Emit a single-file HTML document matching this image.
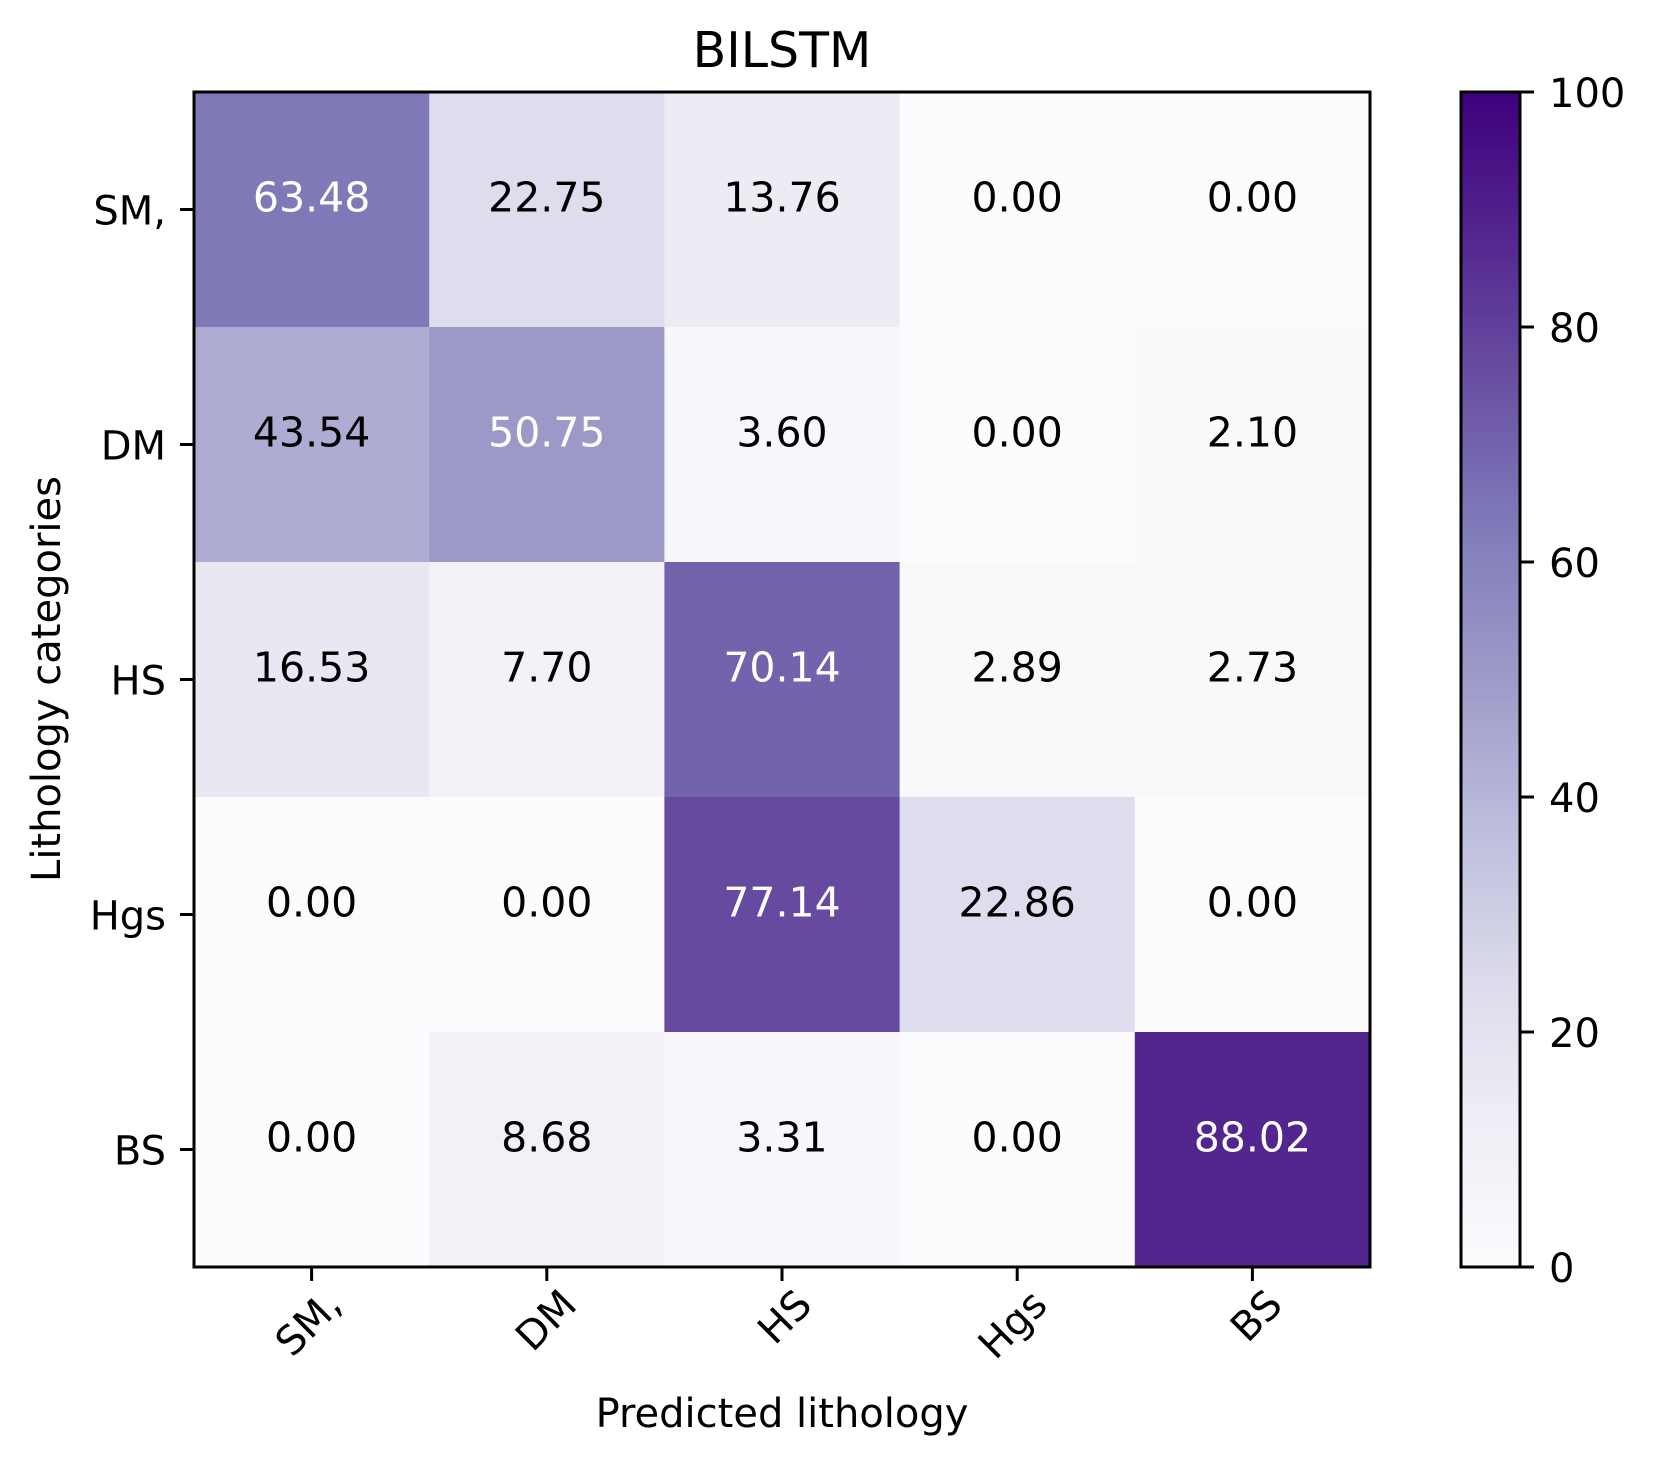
<!DOCTYPE html>
<html><head><meta charset="utf-8"><style>
html,body{margin:0;padding:0;background:#fff;}
svg{display:block;font-family:"DejaVu Sans","Liberation Sans",sans-serif;}
</style></head><body>
<svg id="chart" width="1658" height="1467" viewBox="0 0 1658 1467">
<defs>
<linearGradient id="cbgrad" x1="0" y1="1" x2="0" y2="0">
<stop offset="0" stop-color="#fcfbfd"/><stop offset="0.125" stop-color="#efedf5"/><stop offset="0.25" stop-color="#dadaeb"/><stop offset="0.375" stop-color="#bcbddc"/><stop offset="0.5" stop-color="#9e9ac8"/><stop offset="0.625" stop-color="#807dba"/><stop offset="0.75" stop-color="#6a51a3"/><stop offset="0.875" stop-color="#54278f"/><stop offset="1" stop-color="#3f007d"/>
</linearGradient>
</defs>
<text x="782" y="67" font-size="49" text-anchor="middle">BILSTM</text>
<g id="cells"></g>
<rect x="194" y="92" width="1176" height="1175" fill="none" stroke="#000" stroke-width="3"/>
<g id="axes"></g>
<text x="782" y="1427" font-size="40" text-anchor="middle">Predicted lithology</text>
<text transform="translate(60,679) rotate(-90)" font-size="40" text-anchor="middle">Lithology categories</text>
<rect x="1461" y="92" width="59" height="1175" fill="url(#cbgrad)" stroke="#000" stroke-width="3"/>
<g id="cbticks"></g>
</svg>
<script>
const categories = ["SM,", "DM", "HS", "Hgs", "BS"];
const row0 = [63.48, 22.75, 13.76, 0.00, 0.00];
const row1 = [43.54, 50.75, 3.60, 0.00, 2.10];
const row2 = [16.53, 7.70, 70.14, 2.89, 2.73];
const row3 = [0.00, 0.00, 77.14, 22.86, 0.00];
const row4 = [0.00, 8.68, 3.31, 0.00, 88.02];
const colorbarTicks = [0, 20, 40, 60, 80, 100];

const matrix = [row0, row1, row2, row3, row4];
const NS = "http://www.w3.org/2000/svg";
const L = 194, T = 92, W = 1176, H = 1175;
const cw = W / categories.length, ch = H / categories.length;
const xPos = i => L + i * cw;
const yPos = j => T + j * ch;
const cbT = 92, cbB = 1267, cbX = 1520;
const cbY = v => cbB - (v / 100) * (cbB - cbT);
const stops = ["#fcfbfd","#efedf5","#dadaeb","#bcbddc","#9e9ac8","#807dba","#6a51a3","#54278f","#3f007d"];
function hex(h){return [1,3,5].map(k=>parseInt(h.substr(k,2),16));}
function color(v){
  const t = Math.max(0, Math.min(1, v / 100)) * (stops.length - 1);
  const i = Math.min(stops.length - 2, Math.floor(t)), f = t - i;
  const a = hex(stops[i]), b = hex(stops[i+1]);
  return "rgb(" + a.map((c,k)=>Math.round(c + (b[k]-c)*f)).join(",") + ")";
}
function mk(tag, attrs, parent){
  const e = document.createElementNS(NS, tag);
  for (const k in attrs) e.setAttribute(k, attrs[k]);
  parent.appendChild(e);
  return e;
}
const cells = document.getElementById("cells");
matrix.forEach((row, j) => row.forEach((v, i) => {
  const r = mk("rect", {x: xPos(i), y: yPos(j), width: cw + 0.5, height: ch + 0.5, fill: color(v)}, cells);
  
  
  const t = mk("text", {x: xPos(i) + cw / 2, y: yPos(j) + ch / 2 + 2, "font-size": 41, "text-anchor": "middle", fill: v > 50 ? "#fff" : "#000"}, cells);
  t.textContent = v.toFixed(2);
  
  
}));
const axes = document.getElementById("axes");
categories.forEach((c, i) => {
  const cx = xPos(i) + cw / 2, cy = yPos(i) + ch / 2;
  const tx = mk("line", {x1: cx, y1: T + H, x2: cx, y2: T + H + 14, stroke: "#000", "stroke-width": 3}, axes);
  
  
  const lx = mk("text", {transform: "translate(" + (cx + 32) + "," + (T + H + 40) + ") rotate(-45)", "font-size": 40, "text-anchor": "end"}, axes);
  lx.textContent = c;
  
  
  const ty = mk("line", {x1: L - 14, y1: cy, x2: L, y2: cy, stroke: "#000", "stroke-width": 3}, axes);
  
  
  const ly = mk("text", {x: L - 28, y: cy + 15, "font-size": 40, "text-anchor": "end"}, axes);
  ly.textContent = c;
  
  
});
const cbt = document.getElementById("cbticks");
colorbarTicks.forEach(v => {
  const y = cbY(v);
  const l = mk("line", {x1: cbX, y1: y, x2: cbX + 14, y2: y, stroke: "#000", "stroke-width": 3}, cbt);
  
  
  const t = mk("text", {x: cbX + 29, y: y + 15, "font-size": 40}, cbt);
  t.textContent = v;
  
  
});
</script>
</body></html>
